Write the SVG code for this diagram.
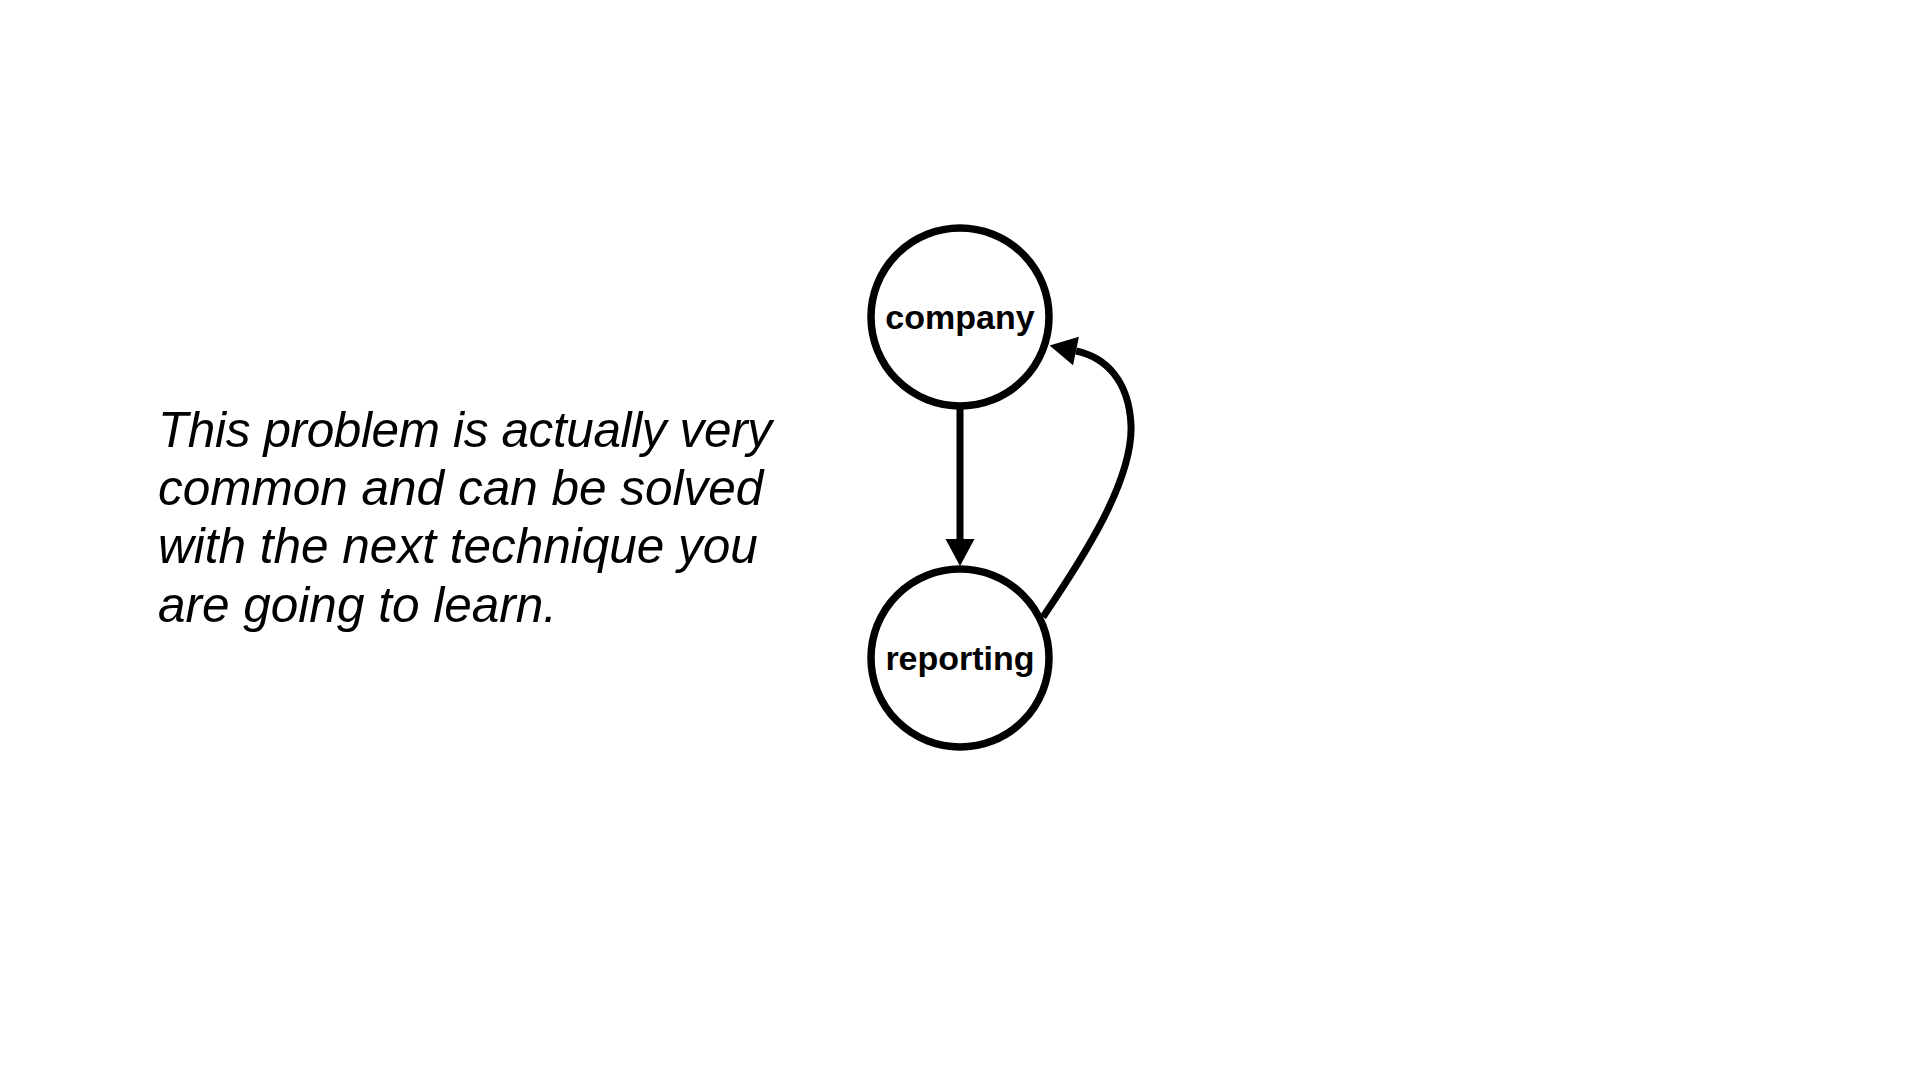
<svg xmlns="http://www.w3.org/2000/svg" width="1920" height="1080" viewBox="0 0 1920 1080">
<style>
.node circle{fill:#fff;stroke:#000;stroke-width:7.5}
.node text{font-family:"Liberation Sans",Arial,Helvetica,sans-serif;font-weight:bold;font-size:34px;text-anchor:middle;fill:#000}
.edge{fill:none;stroke:#000;stroke-width:7;marker-end:url(#arrow)}
.para{font-family:"Liberation Sans",Arial,Helvetica,sans-serif;font-style:italic;font-size:49.5px;fill:#000}
</style>
<defs>
<marker id="arrow" markerUnits="userSpaceOnUse" markerWidth="27" markerHeight="30" refX="0" refY="15" orient="auto" overflow="visible">
<path d="M0,0.5 L27,15 L0,29.5 Z" fill="#000"/>
</marker>
</defs>
<rect width="1920" height="1080" fill="#fff"/>
<g id="text-block">
<text class="para" x="158" y="447" textLength="614" lengthAdjust="spacing">This problem is actually very</text>
<text class="para" x="158" y="505">common and can be solved</text>
<text class="para" x="158" y="563">with the next technique you</text>
<text class="para" x="158" y="622">are going to learn.</text>
</g>
<g id="connectors">
<line class="edge" x1="960" y1="409" x2="960" y2="539"/>
<path class="edge" d="M1043,617 C1085,555 1133,480 1131,425 C1129,380 1105,357 1076,351"/>
</g>
<g id="node-company" class="node">
<circle cx="960" cy="317" r="89"/>
<text x="960" y="329">company</text>
</g>
<g id="node-reporting" class="node">
<circle cx="960" cy="658" r="89"/>
<text x="960" y="670">reporting</text>
</g>
</svg>
